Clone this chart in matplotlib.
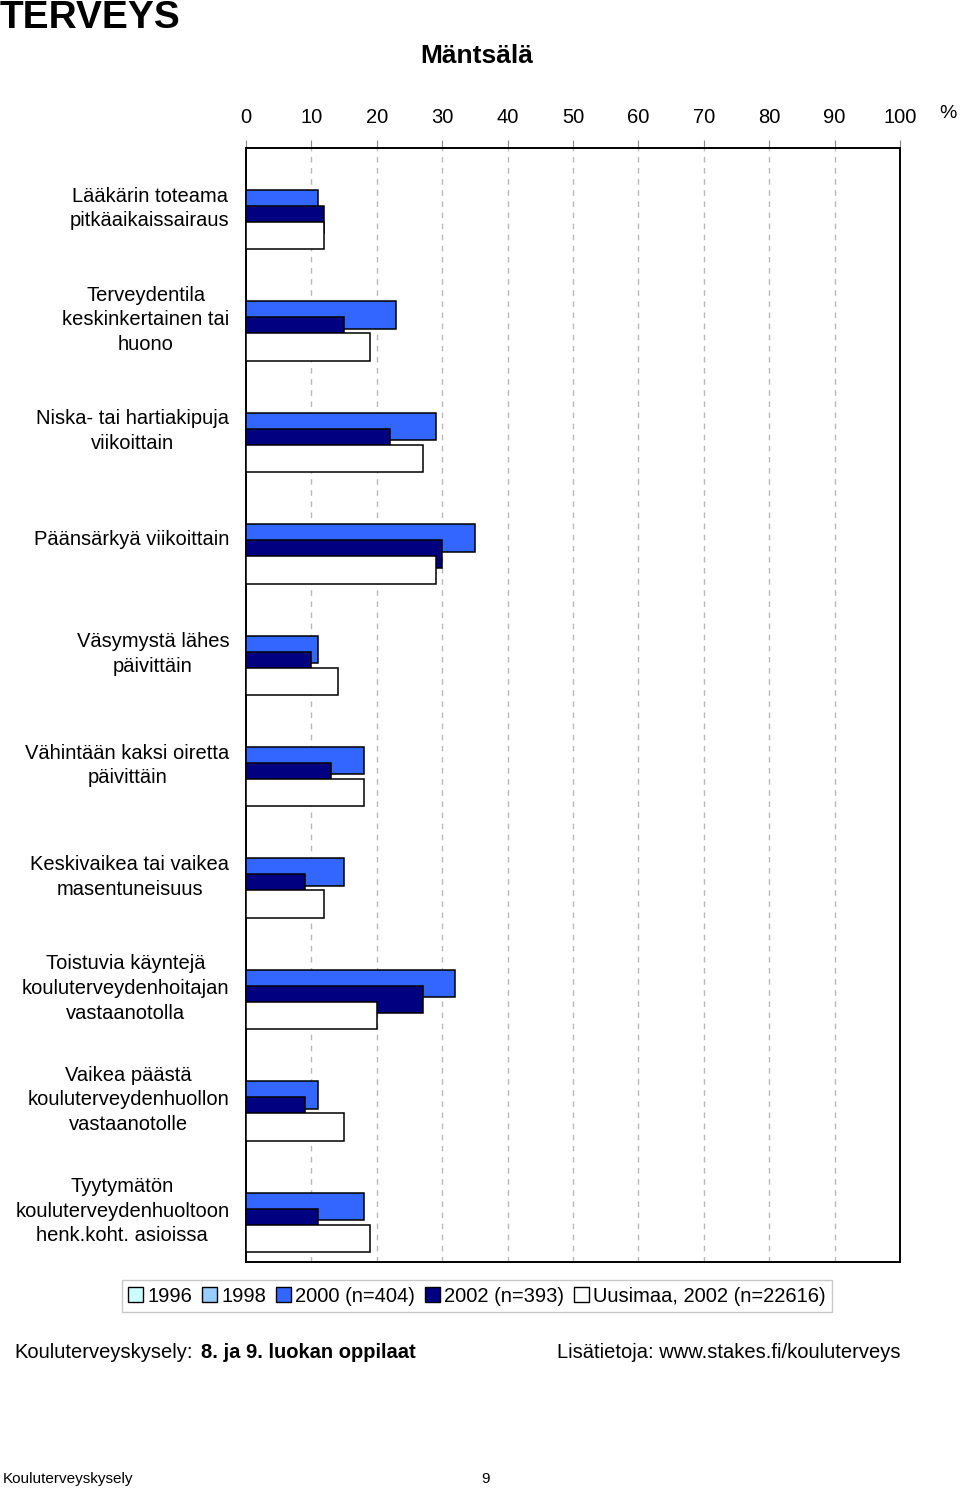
import matplotlib.pyplot as plt
from matplotlib.patches import Patch
import numpy as np

plt.rcParams['font.family'] = ['Liberation Sans', 'DejaVu Sans']

categories = [
    "Lääkärin toteama\npitkäaikaissairaus",
    "Terveydentila\nkeskinkertainen tai\nhuono",
    "Niska- tai hartiakipuja\nviikoittain",
    "Päänsärkyä viikoittain",
    "Väsymystä lähes\npäivittäin",
    "Vähintään kaksi oiretta\npäivittäin",
    "Keskivaikea tai vaikea\nmasentuneisuus",
    "Toistuvia käyntejä\nkouluterveydenhoitajan\nvastaanotolla",
    "Vaikea päästä\nkouluterveydenhuollon\nvastaanotolle",
    "Tyytymätön\nkouluterveydenhuoltoon\nhenk.koht. asioissa",
]
v2000 = [11, 23, 29, 35, 11, 18, 15, 32, 11, 18]
v2002 = [12, 15, 22, 30, 10, 13, 9, 27, 9, 11]
uusimaa = [12, 19, 27, 29, 14, 18, 12, 20, 15, 19]

series_labels = ["1996", "1998", "2000 (n=404)", "2002 (n=393)", "Uusimaa, 2002 (n=22616)"]
series_colors = ["#CCFFFF", "#99CCFF", "#3366FF", "#000080", "#FFFFFF"]

fig = plt.figure(figsize=(9.6, 14.89), dpi=100)
ax = fig.add_axes([246/960, 1-1262/1489, (900-246)/960, (1262-148)/1489])

y = np.arange(len(categories))
h = 0.245
step = 0.1436
for k, vals in [(2, v2000), (3, v2002), (4, uusimaa)]:
    ax.barh(y + (k-2)*step, vals, height=h, color=series_colors[k],
            edgecolor='black', linewidth=1.1, zorder=3)

ax.set_xlim(0, 100)
ax.set_ylim(len(categories)-0.5, -0.5)
ax.set_xticks(np.arange(0, 101, 10))
ax.xaxis.tick_top()
ax.tick_params(axis='x', direction='out', length=6, width=0.8, color='#888888',
               labelsize=14.5, pad=9)
ax.set_yticks(y)
ax.set_yticklabels(categories, fontsize=14.5)
for t in ax.get_yticklabels():
    t.set_multialignment('center')
    t.set_linespacing(1.38)
ax.tick_params(axis='y', length=0, pad=12)
for x in range(10, 100, 10):
    ax.axvline(x, color='#B8B8B8', linestyle=(0, (4, 4)), linewidth=1, zorder=1)
for s in ax.spines.values():
    s.set_linewidth(1.4)

fig.text(948/960, 1-113/1489, "%", fontsize=14, ha='center', va='center')
fig.text(0.0, 1-28/1489, "TERVEYS", fontsize=28, fontweight='bold', ha='left', va='baseline')
fig.text(477/960, 1-56/1489, "Mäntsälä", fontsize=19, fontweight='bold', ha='center', va='center')

handles = [Patch(facecolor=c, edgecolor='black', linewidth=1) for c in series_colors]
leg = fig.legend(handles, series_labels, loc='center', bbox_to_anchor=(477/960, 1-1296/1489),
                 ncol=5, fontsize=14.5, frameon=True, fancybox=False, edgecolor='#BBBBBB',
                 handlelength=0.75, handleheight=0.75, handletextpad=0.2,
                 columnspacing=0.5, borderpad=0.3, borderaxespad=0)

fig.text(14/960, 1-1352/1489, "Kouluterveyskysely:", fontsize=14.5, ha='left', va='center')
fig.text(201/960, 1-1352/1489, "8. ja 9. luokan oppilaat", fontsize=14.5, fontweight='bold',
         ha='left', va='center')
fig.text(557/960, 1-1352/1489, "Lisätietoja: www.stakes.fi/kouluterveys", fontsize=14.5,
         ha='left', va='center')
fig.text(3/960, 1-1479/1489, "Kouluterveyskysely", fontsize=11, ha='left', va='center')
fig.text(485/960, 1-1479/1489, "9", fontsize=11, ha='center', va='center')

fig.savefig("out.png", dpi=100)
